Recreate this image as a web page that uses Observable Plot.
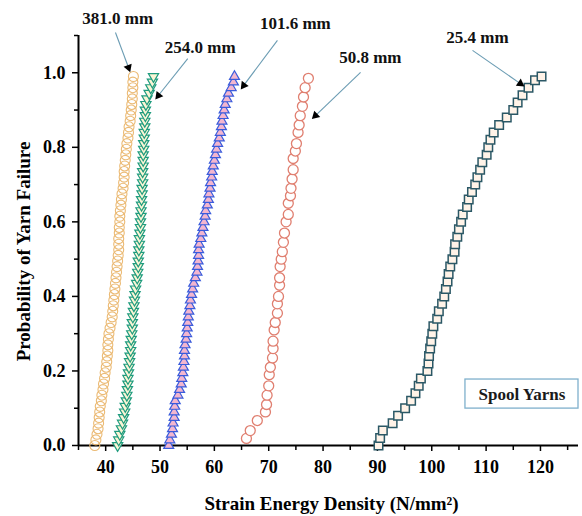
<!DOCTYPE html>
<html><head><meta charset="utf-8">
<script src="https://cdn.jsdelivr.net/npm/d3@7"></script>
<script src="https://cdn.jsdelivr.net/npm/@observablehq/plot@0.6"></script>
<style>body{margin:0;background:#fff}</style>
</head><body><div id="chart"></div>
<script>
// Probability levels shared by the three dense series
const probDense = [0,0.015,0.03,0.045,0.06,0.075,0.09,0.105,0.12,0.135,0.15,0.165,0.18,0.195,0.21,0.225,0.24,0.255,0.27,0.285,0.3,0.315,0.33,0.345,0.36,0.375,0.39,0.405,0.42,0.435,0.45,0.465,0.48,0.495,0.51,0.525,0.54,0.555,0.57,0.585,0.6,0.615,0.63,0.645,0.66,0.675,0.69,0.705,0.72,0.735,0.75,0.765,0.78,0.795,0.81,0.825,0.84,0.855,0.87,0.885,0.9,0.915,0.93,0.945,0.96,0.975,0.99];
// 381.0 mm
const strain381 = [38.0,38.2,38.4,38.6,38.7,38.8,38.9,39.0,39.2,39.3,39.5,39.6,39.8,39.9,40.1,40.2,40.3,40.4,40.4,40.5,40.6,40.8,41.0,41.2,41.3,41.4,41.5,41.6,41.7,41.8,41.9,42.0,42.1,42.2,42.3,42.4,42.4,42.4,42.5,42.5,42.6,42.6,42.7,42.8,42.9,43.0,43.2,43.3,43.4,43.4,43.5,43.6,43.7,43.8,43.9,44.1,44.2,44.3,44.5,44.6,44.7,44.8,44.9,44.9,45.0,45.0,45.1];
// 254.0 mm
const strain254 = [42.2,42.4,42.6,42.9,43.1,43.3,43.5,43.6,43.8,43.9,44.0,44.1,44.1,44.2,44.3,44.4,44.5,44.6,44.6,44.7,44.8,44.9,44.9,45.0,45.1,45.2,45.3,45.4,45.5,45.7,45.8,45.9,46.0,46.0,46.1,46.1,46.2,46.2,46.3,46.4,46.4,46.5,46.5,46.6,46.6,46.7,46.7,46.8,46.8,46.8,46.9,46.9,46.9,47.0,47.0,47.1,47.1,47.2,47.2,47.3,47.3,47.4,47.6,48.0,48.3,48.6,48.8];
// 101.6 mm
const strain1016 = [51.6,51.8,52.1,52.3,52.4,52.6,52.6,52.7,52.8,53.3,53.6,53.9,54.0,54.2,54.3,54.4,54.5,54.5,54.6,54.8,54.9,55.0,55.1,55.2,55.3,55.5,55.6,55.8,56.0,56.2,56.5,56.8,56.9,57.0,57.1,57.1,57.2,57.5,57.7,57.9,58.1,58.3,58.4,58.7,58.9,59.0,59.2,59.3,59.5,59.6,59.8,60.0,60.2,60.4,60.6,60.9,61.1,61.3,61.4,61.6,61.8,62.0,62.3,62.6,63.1,63.5,63.7];
// 50.8 mm
const prob508 = [0.019,0.04,0.067,0.09,0.11,0.135,0.16,0.19,0.21,0.235,0.26,0.28,0.31,0.33,0.355,0.38,0.40,0.43,0.45,0.48,0.50,0.52,0.545,0.57,0.60,0.62,0.65,0.67,0.69,0.715,0.74,0.77,0.79,0.81,0.84,0.86,0.885,0.91,0.935,0.96,0.985];
const strain508 = [65.9,66.6,67.9,69.4,69.6,69.7,70.0,70.1,70.3,70.7,70.8,70.8,71.0,71.2,71.6,71.6,71.8,72.0,72.0,72.1,72.3,72.5,72.7,72.9,73.2,73.6,73.6,74.0,74.1,74.3,74.5,74.5,74.9,75.1,75.4,75.6,75.8,76.2,76.4,76.7,77.3];
// 25.4 mm
const prob254mm = [0,0.02,0.04,0.06,0.08,0.10,0.12,0.14,0.16,0.18,0.20,0.22,0.24,0.26,0.28,0.30,0.32,0.34,0.36,0.38,0.40,0.42,0.44,0.46,0.48,0.50,0.52,0.54,0.56,0.58,0.60,0.62,0.64,0.66,0.68,0.70,0.72,0.74,0.76,0.78,0.80,0.82,0.84,0.86,0.88,0.90,0.92,0.94,0.96,0.98,0.99];
const strain254mm = [90.2,90.5,91.0,92.8,93.8,95.1,96.2,97.0,97.6,98.0,99.2,99.4,99.5,99.7,99.9,100.1,100.3,101.0,101.3,101.9,102.3,102.6,102.9,103.1,103.4,103.8,104.2,104.3,104.7,105.0,105.4,105.7,106.5,106.8,107.4,108.0,108.4,108.9,109.3,110.1,110.4,110.8,111.4,112.4,113.8,115.0,115.8,116.7,117.8,119.0,120.2];

// Axis ticks
const xMajor = [40,50,60,70,80,90,100,110,120];
const xMinor = [35,45,55,65,75,85,95,105,115,125];
const yMajor = [0,0.2,0.4,0.6,0.8,1.0];
const yMinor = [0.1,0.3,0.5,0.7,0.9,1.1];

// Annotations (data coordinates)
const labelText = ["381.0 mm","254.0 mm","101.6 mm","50.8 mm","25.4 mm"];
const labelX = [42.2,57.4,74.9,88.7,108.4];
const labelY = [1.146,1.068,1.132,1.041,1.095];
const arrowX1 = [41.8,55.1,71.6,86.9,107.5];
const arrowY1 = [1.108,1.038,1.087,1.001,1.060];
const arrowX2 = [44.2,49.7,65.4,78.6,116.3];
const arrowY2 = [1.014,0.939,0.966,0.885,0.971];
const legendText = "Spool Yarns";
const legendBox = {x1:106.2, x2:127.0, y1:0.099, y2:0.177};

const rows = (xs, ys) => xs.map((x, i) => ({x, y: ys[i]}));
const d381 = rows(strain381, probDense);
const d254 = rows(strain254, probDense);
const d1016 = rows(strain1016, probDense);
const d508 = rows(strain508, prob508);
const d25 = rows(strain254mm, prob254mm);
const labels = labelText.map((t, i) => ({t, x: labelX[i], y: labelY[i]}));
const arrows = labelText.map((t, i) => ({x1: arrowX1[i], y1: arrowY1[i], x2: arrowX2[i], y2: arrowY2[i]}));

const serif = "'Liberation Serif', 'Times New Roman', serif";

function build(extra) {
  return Plot.plot({
    width: 582, height: 516,
    marginLeft: 78, marginRight: 4, marginTop: 35, marginBottom: 71,
    style: {fontFamily: serif, fontWeight: "bold", fontSize: "18px", background: "white", color: "black", overflow: "visible"},
    x: {domain: [35, 127], label: null},
    y: {domain: [0, 1.1], label: null},
    marks: [
      Plot.axisX(xMajor, {tickSize: 6, tickPadding: 9, strokeWidth: 1.5, fontSize: 18, label: null}),
      Plot.axisX(xMinor, {tickSize: 5, text: null, strokeWidth: 1.5, label: null}),
      Plot.axisY(yMajor, {tickSize: 6, tickPadding: 7, strokeWidth: 1.5, fontSize: 18, tickFormat: d => d.toFixed(1), label: null}),
      Plot.axisY(yMinor, {tickSize: 4, text: null, strokeWidth: 1.5, label: null}),
      Plot.ruleY([0], {stroke: "black", strokeWidth: 2}),
      Plot.ruleX([35], {y1: 0, y2: 1.1, stroke: "black", strokeWidth: 2}),
      Plot.dot(d381, {x: "x", y: "y", r: 5, stroke: "#ebba74", fill: "none", strokeWidth: 1.1}),
      Plot.dot(d254, {x: "x", y: "y", symbol: "triangle", rotate: 180, r: 3.8, stroke: "#1f9c7e", fill: "#fbf5d5", strokeWidth: 1.2}),
      Plot.dot(d1016, {x: "x", y: "y", symbol: "triangle", r: 3.7, stroke: "#3a5cdc", fill: "#f3b6cf", strokeWidth: 1.2}),
      Plot.dot(d508, {x: "x", y: "y", r: 5, stroke: "#e07f70", fill: "white", strokeWidth: 1.3}),
      Plot.dot(d25, {x: "x", y: "y", symbol: "square", r: 4.8, stroke: "#2b5866", fill: "#fff3e8", strokeWidth: 1.5}),
      Plot.link(arrows, {x1: "x1", y1: "y1", x2: "x2", y2: "y2", stroke: "#6b9cb3", strokeWidth: 1.1}),
      Plot.text(labels, {x: "x", y: "y", text: "t", fontSize: 17, fill: "#111"}),
      Plot.rect([legendBox], {x1: "x1", x2: "x2", y1: "y1", y2: "y2", fill: "white", stroke: "#7fb0cc", strokeWidth: 1.3}),
      Plot.text([legendText], {x: (legendBox.x1 + legendBox.x2) / 2, y: (legendBox.y1 + legendBox.y2) / 2, fontSize: 17, fill: "#1a1a1a"}),
      Plot.text(["Strain Energy Density (N/mm²)"], {frameAnchor: "bottom", textAnchor: "middle", lineAnchor: "middle", dx: 3, dy: 58, fontSize: 19}),
      Plot.text(["Probability of Yarn Failure"], {frameAnchor: "left", textAnchor: "middle", lineAnchor: "middle", dx: -55, dy: 11, rotate: -90, fontSize: 19}),
      ...extra
    ]
  });
}

const probe = build([]);
const sx = probe.scale("x"), sy = probe.scale("y");
const heads = arrows.map(a => {
  const dx = sx.apply(a.x2) - sx.apply(a.x1);
  const dy = sy.apply(a.y2) - sy.apply(a.y1);
  return {x: a.x2, y: a.y2, angle: Math.atan2(dx, -dy) * 180 / Math.PI};
});
const chart = build([
  Plot.dot(heads, {x: "x", y: "y", symbol: "triangle", r: 3.2, fill: "black", stroke: "none", rotate: "angle"})
]);
document.getElementById("chart").appendChild(chart);
</script>
</body></html>
